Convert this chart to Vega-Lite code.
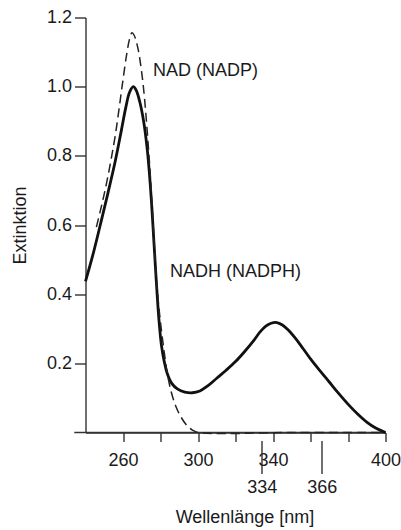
{
  "$schema": "https://vega.github.io/schema/vega-lite/v6.json",
  "width": 300,
  "height": 415,
  "autosize": {"type": "none"},
  "padding": {"left": 85.5, "top": 17.5, "right": 15.5, "bottom": 97.5},
  "background": "white",
  "config": {
    "view": {"stroke": null},
    "font": "Liberation Sans",
    "axis": {
      "grid": false,
      "domainColor": "#333",
      "domainWidth": 1.4,
      "tickColor": "#333",
      "tickWidth": 1.4,
      "labelColor": "#1a1a1a",
      "titleColor": "#1a1a1a",
      "labelFont": "Liberation Sans",
      "titleFont": "Liberation Sans",
      "labelFontSize": 18,
      "titleFontSize": 18,
      "titleFontWeight": "normal",
      "labelFlush": false,
      "labelOverlap": false
    }
  },
  "datasets": {
    "nadh": [
      {"wavelength": 240, "extinction": 0.437},
      {"wavelength": 244, "extinction": 0.515},
      {"wavelength": 248, "extinction": 0.603},
      {"wavelength": 252, "extinction": 0.693},
      {"wavelength": 256, "extinction": 0.788},
      {"wavelength": 259, "extinction": 0.87},
      {"wavelength": 261.5, "extinction": 0.94},
      {"wavelength": 263.5, "extinction": 0.984},
      {"wavelength": 265.5, "extinction": 1.0},
      {"wavelength": 267, "extinction": 0.99},
      {"wavelength": 269, "extinction": 0.955},
      {"wavelength": 271, "extinction": 0.9},
      {"wavelength": 273, "extinction": 0.815},
      {"wavelength": 274.5, "extinction": 0.72},
      {"wavelength": 275.5, "extinction": 0.64},
      {"wavelength": 276.5, "extinction": 0.55},
      {"wavelength": 277.5, "extinction": 0.46},
      {"wavelength": 278.5, "extinction": 0.375},
      {"wavelength": 279.5, "extinction": 0.305},
      {"wavelength": 280.5, "extinction": 0.252},
      {"wavelength": 282, "extinction": 0.205},
      {"wavelength": 283.5, "extinction": 0.172},
      {"wavelength": 286, "extinction": 0.142},
      {"wavelength": 289, "extinction": 0.126},
      {"wavelength": 293, "extinction": 0.117},
      {"wavelength": 297, "extinction": 0.115},
      {"wavelength": 301, "extinction": 0.12},
      {"wavelength": 305, "extinction": 0.134},
      {"wavelength": 310, "extinction": 0.157},
      {"wavelength": 315, "extinction": 0.18},
      {"wavelength": 320, "extinction": 0.205},
      {"wavelength": 325, "extinction": 0.235},
      {"wavelength": 330, "extinction": 0.268},
      {"wavelength": 333, "extinction": 0.29},
      {"wavelength": 336, "extinction": 0.307},
      {"wavelength": 339, "extinction": 0.316},
      {"wavelength": 342, "extinction": 0.318},
      {"wavelength": 345, "extinction": 0.311},
      {"wavelength": 348, "extinction": 0.297},
      {"wavelength": 352, "extinction": 0.272},
      {"wavelength": 356, "extinction": 0.243},
      {"wavelength": 360, "extinction": 0.213},
      {"wavelength": 365, "extinction": 0.179},
      {"wavelength": 370, "extinction": 0.146},
      {"wavelength": 375, "extinction": 0.113},
      {"wavelength": 380, "extinction": 0.082},
      {"wavelength": 385, "extinction": 0.054},
      {"wavelength": 390, "extinction": 0.03},
      {"wavelength": 395, "extinction": 0.012},
      {"wavelength": 400, "extinction": 0.0}
    ],
    "nad": [
      {"wavelength": 245.8, "extinction": 0.594},
      {"wavelength": 248, "extinction": 0.643},
      {"wavelength": 250, "extinction": 0.69},
      {"wavelength": 252, "extinction": 0.742},
      {"wavelength": 254, "extinction": 0.8},
      {"wavelength": 256, "extinction": 0.863},
      {"wavelength": 258, "extinction": 0.94},
      {"wavelength": 260, "extinction": 1.02},
      {"wavelength": 262, "extinction": 1.095},
      {"wavelength": 263.5, "extinction": 1.138},
      {"wavelength": 264.8, "extinction": 1.156},
      {"wavelength": 266, "extinction": 1.148},
      {"wavelength": 268, "extinction": 1.11},
      {"wavelength": 270, "extinction": 1.04},
      {"wavelength": 271.5, "extinction": 0.965},
      {"wavelength": 273, "extinction": 0.865},
      {"wavelength": 274.5, "extinction": 0.75},
      {"wavelength": 276, "extinction": 0.61},
      {"wavelength": 277.5, "extinction": 0.47},
      {"wavelength": 279, "extinction": 0.37},
      {"wavelength": 280.5, "extinction": 0.295},
      {"wavelength": 282, "extinction": 0.232},
      {"wavelength": 283.5, "extinction": 0.175},
      {"wavelength": 285.5, "extinction": 0.122},
      {"wavelength": 288, "extinction": 0.078},
      {"wavelength": 291, "extinction": 0.044},
      {"wavelength": 294, "extinction": 0.021},
      {"wavelength": 297, "extinction": 0.007},
      {"wavelength": 300, "extinction": 0.0},
      {"wavelength": 350, "extinction": 0.0},
      {"wavelength": 400, "extinction": 0.0}
    ],
    "labels": [
      {"wavelength": 276.0, "extinction": 1.03, "label": "NAD (NADP)"},
      {"wavelength": 285.1, "extinction": 0.45, "label": "NADH (NADPH)"}
    ],
    "baseline": [
      {"wavelength": 234, "wavelength_end": 400, "extinction": 0}
    ]
  },
  "encoding": {
    "y": {
      "field": "extinction",
      "type": "quantitative",
      "scale": {"domain": [0, 1.2], "nice": false},
      "axis": {
        "values": [0.2, 0.4, 0.6, 0.8, 1.0, 1.2],
        "format": ".1f",
        "tickSize": 11,
        "labelPadding": 3,
        "title": "Extinktion",
        "titlePadding": 17
      }
    }
  },
  "layer": [
    {
      "data": {"name": "baseline"},
      "mark": {"type": "rule", "stroke": "#333", "strokeWidth": 1.4},
      "encoding": {
        "x": {"field": "wavelength", "type": "quantitative", "axis": null},
        "x2": {"field": "wavelength_end"}
      }
    },
    {
      "data": {"name": "nadh"},
      "mark": {"type": "line", "stroke": "#111", "strokeWidth": 2.8, "interpolate": "catmull-rom"},
      "encoding": {
        "x": {
          "field": "wavelength",
          "type": "quantitative",
          "scale": {"domain": [240, 400], "nice": false, "zero": false},
          "axis": {
            "orient": "bottom",
            "values": [260, 280, 300, 320, 340, 360, 380, 400],
            "labelExpr": "(datum.value == 260 || datum.value == 300 || datum.value == 340 || datum.value == 400) ? datum.label : ''",
            "tickSize": 9,
            "labelPadding": 10,
            "title": "Wellenlänge [nm]",
            "titlePadding": 39,
            "titleX": 159
          }
        }
      }
    },
    {
      "data": {"name": "nad"},
      "mark": {"type": "line", "stroke": "#222", "strokeWidth": 1.5, "strokeDash": [9, 5], "interpolate": "catmull-rom"},
      "encoding": {
        "x": {
          "field": "wavelength",
          "type": "quantitative",
          "axis": {
            "orient": "bottom",
            "values": [334, 366],
            "domain": false,
            "offset": 8,
            "tickSize": 33,
            "labelPadding": 5,
            "title": null
          }
        }
      }
    },
    {
      "data": {"name": "labels"},
      "mark": {"type": "text", "align": "left", "baseline": "alphabetic", "fontSize": 18, "font": "Liberation Sans", "color": "#1a1a1a"},
      "encoding": {
        "x": {"field": "wavelength", "type": "quantitative", "axis": null},
        "text": {"field": "label"}
      }
    }
  ],
  "resolve": {"axis": {"x": "independent"}}
}
